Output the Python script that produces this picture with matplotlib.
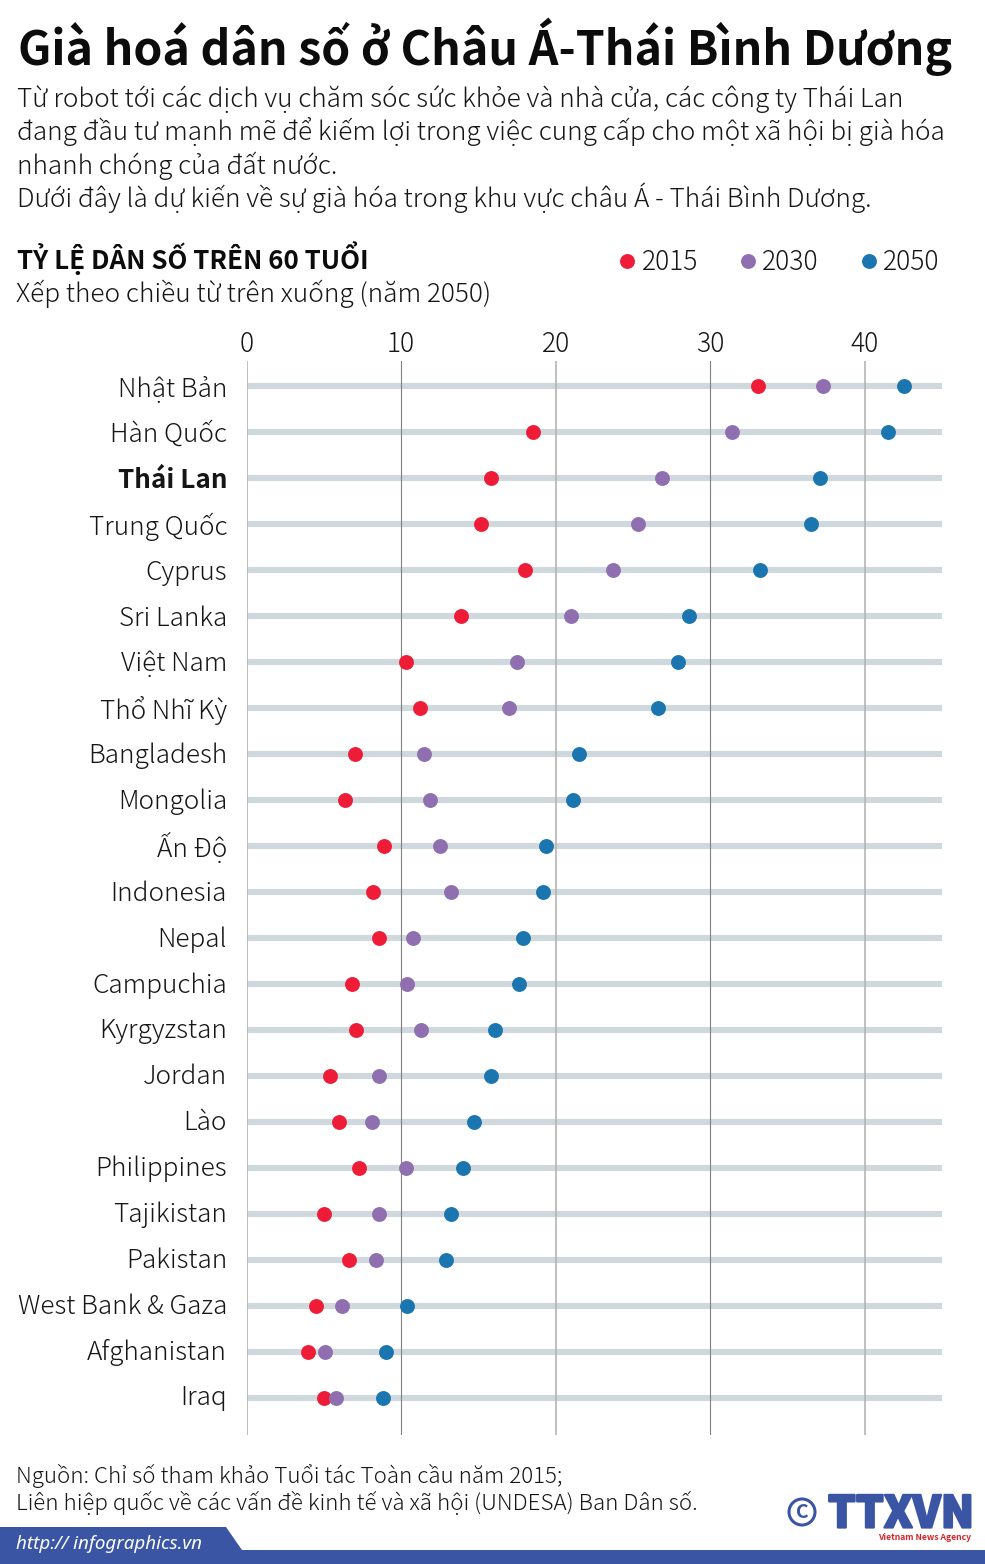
import matplotlib
matplotlib.use("Agg")
import matplotlib.pyplot as plt
import matplotlib.patheffects as pe
from matplotlib.patches import Polygon, Circle
from matplotlib.transforms import ScaledTranslation

FONT = ["Noto Sans CJK JP", "Noto Sans", "DejaVu Sans"]
plt.rcParams["font.family"] = FONT

countries = ["Nhật Bản", "Hàn Quốc", "Thái Lan", "Trung Quốc", "Cyprus", "Sri Lanka",
             "Việt Nam", "Thổ Nhĩ Kỳ", "Bangladesh", "Mongolia", "Ấn Độ", "Indonesia",
             "Nepal", "Campuchia", "Kyrgyzstan", "Jordan", "Lào", "Philippines",
             "Tajikistan", "Pakistan", "West Bank & Gaza", "Afghanistan", "Iraq"]
y2015 = [33.1, 18.5, 15.8, 15.2, 18.0, 13.9, 10.3, 11.2, 7.0, 6.4, 8.9, 8.2,
         8.6, 6.8, 7.1, 5.4, 6.0, 7.3, 5.0, 6.6, 4.5, 4.0, 5.0]
y2030 = [37.3, 31.4, 26.9, 25.3, 23.7, 21.0, 17.5, 17.0, 11.5, 11.9, 12.5, 13.2,
         10.8, 10.4, 11.3, 8.6, 8.1, 10.3, 8.6, 8.4, 6.2, 5.1, 5.8]
y2050 = [42.5, 41.5, 37.1, 36.5, 33.2, 28.6, 27.9, 26.6, 21.5, 21.1, 19.4, 19.2,
         17.9, 17.6, 16.1, 15.8, 14.7, 14.0, 13.2, 12.9, 10.4, 9.0, 8.8]
x_ticks = [0, 10, 20, 30, 40]
series_labels = ["2015", "2030", "2050"]
series_colors = ["#ee1c37", "#8f6fb0", "#1b75ae"]
intro = ["Từ robot tới các dịch vụ chăm sóc sức khỏe và nhà cửa, các công ty Thái Lan",
         "đang đầu tư mạnh mẽ để kiếm lợi trong việc cung cấp cho một xã hội bị già hóa",
         "nhanh chóng của đất nước.",
         "Dưới đây là dự kiến về sự già hóa trong khu vực châu Á - Thái Bình Dương."]

W, H = 985, 1564
TEXT = "#161616"
fig = plt.figure(figsize=(W / 100, H / 100), dpi=100)

# overlay in pixel coordinates for the text and footer
bg = fig.add_axes([0, 0, 1, 1])
bg.set_xlim(0, W)
bg.set_ylim(H, 0)
bg.axis("off")

bg.text(18, 47, "Già hoá dân số ở Châu Á-Thái Bình Dương", fontsize=33.5, weight="bold",
        va="center", color="#0c0c0c")
for y, line in zip([99, 131, 166, 198], intro):
    bg.text(17, y, line, fontsize=18.8, weight="light", va="center", color=TEXT)
bg.text(17, 258, "TỶ LỆ DÂN SỐ TRÊN 60 TUỔI", fontsize=18.7, weight="bold", va="center", color="#0c0c0c")
bg.text(16, 294, "Xếp theo chiều từ trên xuống (năm 2050)", fontsize=18.85, weight="light", va="center", color=TEXT)

for x, label, color in zip([627, 748, 869], series_labels, series_colors):
    bg.scatter([x], [261], s=115, color=color, linewidths=0)
    bg.text(x + (15 if label == "2015" else 14), 262, label, fontsize=19, weight="light",
            va="center", color=TEXT)

bg.text(16, 1476, "Nguồn: Chỉ số tham khảo Tuổi tác Toàn cầu năm 2015;", fontsize=16.1, weight="light",
        va="center", color=TEXT)
bg.text(16, 1503, "Liên hiệp quốc về các vấn đề kinh tế và xã hội (UNDESA) Ban Dân số.", fontsize=16.1,
        weight="light", va="center", color=TEXT)

# footer band and logo
blue = "#3b55a5"
bg.add_patch(Polygon([(0, 1527), (226, 1527), (242, 1550), (985, 1550), (985, 1564), (0, 1564)],
                     closed=True, color=blue, lw=0))
bg.text(16, 1544, "http:// infographics.vn", fontsize=13.5, style="italic", weight="light",
        va="center", color="white", family=["Noto Sans", "DejaVu Sans"])
bg.add_patch(Circle((802, 1512), 13, fill=False, ec=blue, lw=2.2))
bg.text(802, 1512, "C", fontsize=14, weight="bold", ha="center", va="center", color=blue)
logo = bg.text(901, 1514, "TTXVN", fontsize=31.5, weight="black", ha="center", va="center", color=blue)
logo.set_path_effects([pe.withStroke(linewidth=1.6, foreground=blue)])
bg.text(925, 1538, "Vietnam News Agency", fontsize=6.2, weight="bold", ha="center", va="center", color="#d8232a")

# chart
ax = fig.add_axes([246.5 / W, 1 - 1435 / H, (942.2 - 246.5) / W, (1435 - 361) / H])
ax.patch.set_alpha(0)
ax.set_xlim(0, 45)
ax.set_ylim(22.8, -0.543)
for side in ax.spines:
    ax.spines[side].set_visible(False)

rows = list(range(len(countries)))
ax.hlines(rows, 0, 45, color="#cfd8dd", lw=4.4, zorder=1)
for t in x_ticks:
    if t in (10, 30):
        ax.axvline(t, color="#808080", lw=0.8, zorder=2)
    else:
        ax.axvline(t, color="#b4b4b4", lw=1.2, zorder=2)

for values, color in zip([y2015, y2030, y2050], series_colors):
    ax.scatter(values, rows, s=115, color=color, linewidths=0, zorder=3)

ax.xaxis.tick_top()
ax.set_xticks(x_ticks)
ax.tick_params(axis="x", length=0, pad=2.5, labelsize=19, labelcolor=TEXT)
for lab in ax.get_xticklabels():
    lab.set_fontweight("light")
ax.set_yticks(rows)
ax.set_yticklabels(countries, va="center_baseline")
ax.tick_params(axis="y", length=0, pad=14, labelsize=18.8, labelcolor=TEXT)
for i, lab in enumerate(ax.get_yticklabels()):
    lab.set_fontweight("bold" if lab.get_text() == "Thái Lan" else "light")
    # labels sit on a slightly tighter pitch than the rows
    lab.set_transform(lab.get_transform() + ScaledTranslation(0, 3 * i / 22 / 100, fig.dpi_scale_trans))

fig.savefig("out.png", dpi=100)
